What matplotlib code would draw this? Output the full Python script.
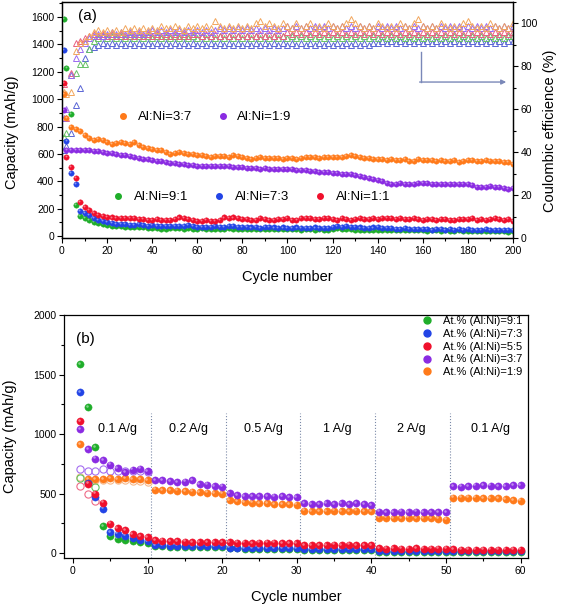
import numpy as np
import matplotlib
matplotlib.use('Agg')
import matplotlib.pyplot as plt
from matplotlib.lines import Line2D
from matplotlib.ticker import MultipleLocator
from matplotlib.transforms import offset_copy

plt.rcParams['font.family'] = ['Liberation Sans', 'DejaVu Sans']

# --- panel (a): long cycling, capacity (left) + coulombic efficiency (right) ---
cycles_a = [1] + list(range(2, 201, 2))

cap_91 = [1583, 1229, 893, 228, 143, 128, 115, 105, 96, 88,
          80, 75, 72, 70, 68, 66, 65, 63, 62, 60,
          60, 56, 50, 48, 55, 58, 56, 54, 55, 53,
          54, 55, 52, 53, 50, 54, 52, 55, 53, 52,
          54, 52, 50, 53, 51, 50, 52, 50, 49, 51,
          50, 48, 50, 47, 49, 48, 46, 48, 47, 45,
          50, 55, 52, 50, 48, 46, 45, 44, 46, 44,
          45, 43, 44, 42, 43, 41, 42, 40, 42, 41,
          40, 39, 41, 40, 38, 40, 39, 38, 40, 38,
          37, 36, 34, 33, 35, 34, 36, 33, 34, 32,
          33]
cap_73 = [1356, 695, 462, 381, 180, 168, 150, 130, 118, 108,
          100, 95, 90, 88, 85, 82, 80, 85, 78, 76,
          78, 74, 72, 70, 75, 73, 70, 72, 80, 70,
          68, 66, 68, 65, 70, 66, 68, 72, 70, 66,
          64, 66, 62, 64, 60, 63, 65, 62, 60, 62,
          60, 58, 62, 60, 58, 60, 62, 58, 56, 60,
          66, 72, 68, 70, 66, 64, 62, 60, 58, 62,
          66, 60, 56, 55, 54, 52, 56, 54, 52, 50,
          48, 50, 46, 48, 50, 47, 48, 46, 48, 45,
          50, 46, 44, 46, 48, 44, 46, 45, 44, 46,
          44]
cap_11 = [1120, 580, 504, 425, 245, 210, 190, 165, 155, 145,
          140, 135, 130, 132, 128, 130, 128, 122, 125, 120,
          118, 122, 115, 118, 120, 125, 135, 128, 122, 120,
          112, 110, 115, 112, 110, 120, 135, 130, 135, 128,
          122, 125, 118, 120, 128, 125, 118, 120, 125, 122,
          128, 118, 115, 128, 130, 128, 125, 122, 128, 130,
          124, 120, 128, 125, 120, 125, 128, 122, 125, 128,
          126, 130, 132, 128, 125, 130, 126, 122, 128, 125,
          118, 124, 126, 120, 125, 124, 120, 118, 125, 122,
          124, 128, 120, 122, 118, 126, 130, 124, 120, 126,
          112]
cap_37 = [1035, 860, 796, 780, 770, 740, 715, 700, 712, 705,
          685, 670, 680, 688, 680, 672, 690, 665, 650, 640,
          635, 630, 625, 615, 598, 608, 612, 605, 600, 598,
          595, 590, 588, 580, 585, 588, 582, 580, 590, 585,
          575, 570, 565, 570, 575, 568, 572, 568, 570, 565,
          568, 570, 565, 572, 575, 578, 575, 572, 575, 576,
          578, 576, 580, 585, 592, 585, 578, 572, 568, 562,
          565, 560, 558, 562, 556, 558, 560, 548, 545, 560,
          556, 555, 552, 550, 553, 550, 548, 552, 542, 550,
          556, 552, 550, 548, 552, 548, 550, 546, 544, 540,
          528]
cap_19 = [918, 625, 630, 632, 630, 628, 625, 620, 618, 615,
          610, 605, 600, 595, 590, 585, 580, 572, 565, 560,
          555, 550, 545, 540, 535, 530, 528, 525, 522, 520,
          515, 515, 512, 508, 510, 512, 508, 510, 505, 505,
          503, 500, 498, 495, 492, 495, 492, 490, 488, 490,
          492, 488, 485, 480, 482, 478, 475, 470, 468, 465,
          462, 458, 455, 452, 450, 445, 440, 432, 425, 418,
          410, 405, 385, 380, 382, 385, 380, 378, 380, 385,
          388, 385, 382, 380, 382, 380, 378, 382, 380, 378,
          380, 372, 358, 355, 360, 362, 358, 355, 350, 345,
          348]

eff_37 = [68, 67, 68, 87, 91, 92, 94, 96, 97, 96,
          97, 96, 97, 96, 98, 97, 98, 97, 98, 97,
          98, 97, 99, 98, 98, 99, 98, 97, 99, 98,
          99, 98, 99, 98, 101, 99, 98, 99, 98, 99,
          98, 99, 98, 100, 101, 99, 100, 99, 98, 100,
          99, 98, 100, 98, 99, 100, 98, 99, 98, 100,
          99, 98, 99, 100, 102, 100, 99, 98, 99, 98,
          100, 99, 98, 99, 98, 100, 99, 98, 100, 102,
          99, 98, 99, 98, 100, 99, 98, 99, 98, 100,
          101, 99, 98, 99, 98, 100, 99, 98, 99, 98,
          100]
eff_19 = [56, 60, 76, 84, 88, 91, 93, 94, 95, 94,
          95, 96, 95, 96, 95, 96, 95, 96, 95, 96,
          97, 96, 97, 96, 97, 96, 97, 96, 97, 96,
          97, 96, 97, 96, 97, 98, 97, 98, 97, 98,
          97, 98, 97, 98, 97, 98, 97, 98, 97, 98,
          99, 98, 99, 98, 99, 98, 99, 98, 99, 98,
          99, 98, 99, 98, 99, 98, 99, 98, 99, 98,
          99, 98, 99, 98, 99, 98, 99, 98, 99, 98,
          99, 98, 99, 98, 99, 98, 99, 98, 99, 98,
          99, 98, 99, 98, 99, 98, 99, 98, 99, 98,
          99]
eff_11 = [72, 56, 77, 91, 92, 93, 94, 95, 94, 95,
          94, 95, 94, 95, 94, 95, 94, 95, 94, 95,
          94, 95, 94, 95, 94, 95, 94, 95, 94, 95,
          95, 94, 95, 94, 95, 94, 95, 94, 95, 94,
          95, 94, 95, 94, 95, 94, 95, 94, 95, 94,
          96, 95, 96, 95, 96, 95, 96, 95, 96, 95,
          96, 95, 96, 95, 96, 95, 96, 95, 96, 95,
          96, 95, 96, 95, 96, 95, 96, 95, 96, 95,
          96, 95, 96, 95, 96, 95, 96, 95, 96, 95,
          96, 95, 96, 95, 96, 95, 96, 95, 96, 95,
          96]
eff_91 = [47, 49, 76, 77, 81, 81, 88, 92, 93, 94,
          93, 94, 93, 94, 93, 94, 93, 94, 93, 94,
          93, 94, 93, 94, 93, 94, 93, 94, 93, 94,
          93, 94, 93, 94, 93, 94, 93, 94, 93, 94,
          93, 94, 93, 94, 93, 94, 93, 94, 93, 94,
          93, 94, 93, 94, 93, 94, 93, 94, 93, 94,
          93, 94, 93, 94, 93, 94, 93, 94, 93, 94,
          93, 94, 93, 94, 93, 94, 93, 94, 93, 94,
          93, 94, 93, 94, 93, 94, 93, 94, 93, 94,
          93, 94, 93, 94, 93, 94, 93, 94, 93, 94,
          94]
eff_73 = [41, 43, 49, 62, 70, 84, 88, 89, 90, 91,
          90, 91, 90, 91, 90, 91, 90, 91, 90, 91,
          90, 91, 90, 91, 90, 91, 90, 91, 90, 91,
          90, 91, 90, 91, 90, 91, 90, 91, 90, 91,
          90, 91, 90, 91, 90, 91, 90, 91, 90, 91,
          90, 91, 90, 91, 90, 91, 90, 91, 90, 91,
          90, 91, 90, 91, 90, 91, 90, 91, 90, 91,
          91, 92, 91, 92, 91, 92, 91, 92, 91, 92,
          91, 92, 91, 92, 91, 92, 91, 92, 91, 92,
          91, 92, 91, 92, 91, 92, 91, 92, 91, 92,
          92]

labels_a = ['Al:Ni=9:1', 'Al:Ni=7:3', 'Al:Ni=1:1', 'Al:Ni=3:7', 'Al:Ni=1:9']

# --- panel (b): rate capability ---
cycles_b = list(range(1, 61))
b_91 = [1585, 1229, 893, 229, 143, 123, 115, 105, 95, 85,
        60, 58, 56, 55, 55, 54, 53, 52, 52, 50,
        42, 40, 38, 38, 37, 36, 36, 35, 35, 34,
        28, 27, 26, 26, 25, 25, 25, 24, 24, 24,
        12, 11, 11, 10, 10, 10, 10, 10, 9, 9,
        10, 10, 9, 9, 9, 9, 9, 8, 8, 8]
b_73 = [1355, 590, 470, 375, 179, 165, 149, 130, 115, 100,
        68, 66, 65, 64, 63, 62, 62, 61, 60, 60,
        48, 46, 45, 45, 44, 44, 43, 43, 42, 42,
        38, 37, 37, 36, 36, 36, 35, 35, 35, 34,
        18, 17, 17, 16, 16, 16, 15, 15, 15, 15,
        17, 17, 16, 16, 16, 16, 15, 15, 15, 15]
b_55 = [1111, 585, 501, 426, 249, 213, 193, 160, 143, 136,
        108, 105, 102, 100, 98, 96, 94, 93, 92, 95,
        92, 90, 88, 87, 88, 90, 88, 86, 85, 82,
        70, 68, 68, 70, 72, 70, 72, 70, 68, 66,
        40, 39, 40, 39, 38, 40, 39, 38, 39, 38,
        32, 31, 31, 30, 31, 30, 30, 31, 30, 30]
b_37 = [1039, 874, 795, 781, 745, 717, 683, 703, 711, 690,
        613, 612, 605, 598, 600, 612, 580, 575, 565, 560,
        507, 490, 480, 478, 482, 480, 475, 478, 472, 470,
        420, 412, 415, 418, 415, 418, 415, 420, 412, 405,
        350, 345, 348, 350, 348, 350, 347, 348, 346, 348,
        565, 560, 565, 568, 572, 568, 566, 565, 570, 572]
b_19 = [913, 620, 625, 625, 633, 625, 628, 625, 620, 613,
        535, 530, 528, 525, 520, 518, 512, 508, 505, 501,
        445, 435, 428, 425, 420, 418, 415, 412, 410, 408,
        358, 355, 355, 356, 357, 355, 356, 358, 355, 353,
        300, 298, 297, 296, 298, 296, 295, 294, 290, 282,
        468, 467, 466, 468, 465, 464, 460, 455, 448, 442]

# open circles (first cycles)
open_cyc = list(range(1, 11))
open_37 = [706, 691, 691, 706, 690, 690, 690, 690, 690, 680]
open_19 = [641, 610, 612, 612, 615, 612, 612, 610, 605, 598]
open_55 = [563, 501, 440]
open_91 = [630, 600, 560]

labels_b = ['At.% (Al:Ni)=9:1', 'At.% (Al:Ni)=7:3', 'At.% (Al:Ni)=5:5',
            'At.% (Al:Ni)=3:7', 'At.% (Al:Ni)=1:9']
rate_labels = ['0.1 A/g', '0.2 A/g', '0.5 A/g', '1 A/g', '2 A/g', '0.1 A/g']
rate_pos = [6, 15.5, 25.5, 35.5, 45.3, 56]
step_edges = [10.5, 20.5, 30.5, 40.5, 50.5]

c_green = '#1fae2a'
c_blue = '#2244e6'
c_red = '#f0102c'
c_purple = '#8a2be2'
c_orange = '#ff7a1a'


def shiny(axis, x, y, c, ms):
    # filled ball + small light spot, mimics the shaded spheres of the original
    axis.plot(x, y, marker='o', linestyle='none', markersize=ms, color=c,
              markeredgecolor=c, markeredgewidth=0.3)
    hi = offset_copy(axis.transData, fig=axis.figure, x=-ms * 0.18, y=ms * 0.18, units='points')
    axis.plot(x, y, marker='o', linestyle='none', markersize=ms * 0.35, color='white',
              alpha=0.45, markeredgewidth=0, transform=hi)


fig = plt.figure(figsize=(5.67, 6.10), dpi=100)

# ---------- (a) ----------
ax = fig.add_axes([0.1093, 0.6098, 0.7954, 0.3869])
ax2 = ax.twinx()

tri = dict(marker='^', linestyle='none', markersize=4.8, markerfacecolor='none',
           markeredgewidth=0.7)
ax2.plot(cycles_a, eff_73, color='#5a66d6', **tri)
ax2.plot(cycles_a, eff_91, color='#66c266', **tri)
ax2.plot(cycles_a, eff_11, color='#ea5f80', **tri)
ax2.plot(cycles_a, eff_19, color='#9a6af0', **tri)
ax2.plot(cycles_a, eff_37, color='#f2a55c', **tri)

for vals, c in zip([cap_91, cap_73, cap_11, cap_37, cap_19],
                   [c_green, c_blue, c_red, c_orange, c_purple]):
    shiny(ax, cycles_a, vals, c, 3.9)

ax.set_zorder(ax2.get_zorder() + 1)
ax.patch.set_visible(False)

ax.set_xlim(0, 200)
ax.set_ylim(-15, 1710)
ax2.set_ylim(0, 110)
ax.xaxis.set_major_locator(MultipleLocator(20))
ax.xaxis.set_minor_locator(MultipleLocator(10))
ax.yaxis.set_major_locator(MultipleLocator(200))
ax.yaxis.set_minor_locator(MultipleLocator(100))
ax2.set_yticks([0, 20, 40, 60, 80, 100])
ax2.yaxis.set_minor_locator(MultipleLocator(10))

for a in (ax, ax2):
    a.tick_params(which='major', direction='out', length=3.5, width=0.8, labelsize=7.5, pad=2)
    a.tick_params(which='minor', direction='out', length=2, width=0.8)
    for s in a.spines.values():
        s.set_linewidth(0.9)

ax.set_xlabel('Cycle number', fontsize=10.5, labelpad=10)
ax.set_ylabel('Capacity (mAh/g)', fontsize=10.5)
ax.yaxis.set_label_coords(-0.095, 0.45)
ax2.set_ylabel('Coulombic efficience (%)', fontsize=10.5)
ax2.yaxis.set_label_coords(1.066, 0.453)
ax.text(0.035, 0.94, '(a)', transform=ax.transAxes, fontsize=11, va='center', ha='left')

# arrow pointing to the efficiency axis
ax2.plot([159, 159], [86.8, 72.7], color='#7a88b8', lw=1.0)
ax2.annotate('', xy=(197, 72.7), xytext=(158.6, 72.7),
             arrowprops=dict(arrowstyle='-|>', color='#7a88b8', lw=1.0,
                             mutation_scale=7, shrinkA=0, shrinkB=0))


def handle(c, ms):
    return Line2D([], [], marker='o', linestyle='none', color=c,
                  markeredgecolor=c, markersize=ms)


leg1 = ax.legend([handle(c_orange, 4), handle(c_purple, 4)],
                 [labels_a[3], labels_a[4]], ncol=2, loc='center left',
                 bbox_to_anchor=(0.1206, 0.5127), frameon=False, fontsize=9.5,
                 handlelength=1.0, handletextpad=0.6, columnspacing=1.85,
                 borderpad=0, borderaxespad=0)
ax.add_artist(leg1)
ax.legend([handle(c_green, 4), handle(c_blue, 4), handle(c_red, 4)],
          labels_a[:3], ncol=3, loc='center left',
          bbox_to_anchor=(0.1095, 0.1737), frameon=False, fontsize=9.5,
          handlelength=1.0, handletextpad=0.7, columnspacing=1.85,
          borderpad=0, borderaxespad=0)

# ---------- (b) ----------
bx = fig.add_axes([0.1129, 0.0852, 0.8183, 0.3984])

bopen = dict(marker='o', linestyle='none', markersize=5.2, markerfacecolor='none',
             markeredgewidth=0.8)

bx.vlines(step_edges, -40, 1180, colors='#7c8aa8', linestyles=':', lw=0.8)

bx.plot(open_cyc, open_19, color='#f7b889', **bopen)
bx.plot(open_cyc, open_37, color='#a46cf0', **bopen)
bx.plot(open_cyc[:3], open_55, color='#ee6a86', **bopen)
bx.plot(open_cyc[:3], open_91, color='#5ec45e', **bopen)

for vals, c in zip([b_19, b_37, b_91, b_73, b_55],
                   [c_orange, c_purple, c_green, c_blue, c_red]):
    shiny(bx, cycles_b, vals, c, 5.2)

for lab, xp in zip(rate_labels, rate_pos):
    bx.text(xp, 1040, lab, ha='center', va='center', fontsize=9)

bx.set_xlim(-1.2, 61)
bx.set_ylim(-40, 2000)
bx.xaxis.set_major_locator(MultipleLocator(10))
bx.xaxis.set_minor_locator(MultipleLocator(5))
bx.yaxis.set_major_locator(MultipleLocator(500))
bx.yaxis.set_minor_locator(MultipleLocator(250))
bx.tick_params(which='major', direction='out', length=3.5, width=0.8, labelsize=7.5, pad=2)
bx.tick_params(which='minor', direction='out', length=2, width=0.8)
for s in bx.spines.values():
    s.set_linewidth(0.9)

bx.set_xlabel('Cycle number', fontsize=10.5, labelpad=10)
bx.set_ylabel('Capacity (mAh/g)', fontsize=10.5)
bx.yaxis.set_label_coords(-0.101, 0.5)
bx.text(0.026, 0.90, '(b)', transform=bx.transAxes, fontsize=11, va='center', ha='left')

bx.legend([handle(c, 5) for c in [c_green, c_blue, c_red, c_purple, c_orange]],
          labels_b, loc='upper left', bbox_to_anchor=(0.768, 1.0),
          frameon=False, fontsize=8, handlelength=1.0, handletextpad=0.9,
          labelspacing=0.25, borderpad=0.1, borderaxespad=0)

fig.savefig('out.png', dpi=100)
